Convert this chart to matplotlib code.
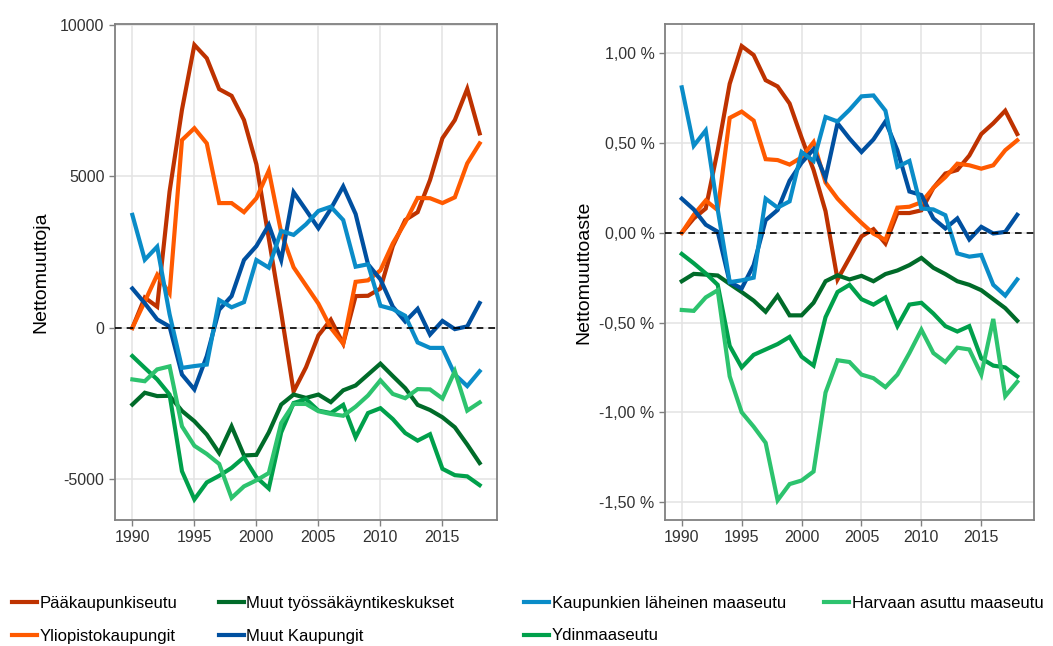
import numpy as np
import matplotlib
matplotlib.use("Agg")
import matplotlib.pyplot as plt
from matplotlib.ticker import FuncFormatter

plt.rcParams['font.family'] = ['Liberation Sans', 'DejaVu Sans']
plt.rcParams['axes.unicode_minus'] = False

years = list(range(1990, 2019))

names = ['Pääkaupunkiseutu', 'Yliopistokaupungit', 'Muut työssäkäyntikeskukset',
         'Muut Kaupungit', 'Kaupunkien läheinen maaseutu', 'Ydinmaaseutu',
         'Harvaan asuttu maaseutu']
colors = ['#be3200', '#ff5a00', '#006b29', '#0050a0', '#0a8cc8', '#00a04b', '#2dc36e']

# Nettomuuttoja (persons)
paakaupunki_n = [0, 1000, 700, 4500, 7200, 9340, 8900, 7880, 7660, 6860, 5400, 2950, 500, -2100,
                 -1300, -250, 270, -520, 1050, 1060, 1300, 2700, 3560, 3820, 4880, 6260, 6860, 7890, 6420]
yliopisto_n = [0, 870, 1750, 1140, 6200, 6590, 6090, 4120, 4120, 3820, 4280, 5190, 3150, 2000,
               1400, 800, 0, -520, 1520, 1570, 1900, 2790, 3480, 4290, 4280, 4120, 4310, 5430, 6090]
tyossak_n = [-2530, -2140, -2250, -2240, -2740, -3080, -3520, -4130, -3250, -4210, -4190, -3450,
             -2530, -2200, -2310, -2200, -2450, -2060, -1900, -1540, -1180, -1590, -1990, -2540,
             -2710, -2950, -3280, -3850, -4460]
muut_kaup_n = [1300, 815, 280, 45, -1540, -2030, -930, 600, 1050, 2240, 2700, 3400, 2240, 4480,
               3890, 3290, 3930, 4670, 3760, 2100, 1600, 700, 210, 630, -220, 230, -40, 50, 820]
kaup_lah_n = [3730, 2250, 2680, 450, -1320, -1260, -1210, 920, 680, 850, 2240, 1990, 3200, 3070,
              3420, 3860, 4000, 3560, 2020, 2100, 730, 620, 400, -480, -660, -660, -1540, -1920, -1430]
ydin_n = [-930, -1320, -1700, -2200, -4730, -5660, -5100, -4880, -4620, -4270, -4930, -5300, -3450,
          -2480, -2350, -2730, -2810, -2540, -3610, -2810, -2650, -3010, -3470, -3720, -3510, -4650,
          -4860, -4900, -5190]
harvaan_n = [-1700, -1760, -1370, -1270, -3250, -3890, -4160, -4490, -5610, -5230, -5030, -4790,
             -3140, -2510, -2510, -2750, -2840, -2900, -2600, -2230, -1730, -2180, -2320, -2020,
             -2030, -2330, -1430, -2730, -2460]

# Nettomuuttoaste (%)
paakaupunki_p = [0, 0.08, 0.135, 0.46, 0.83, 1.04, 0.99, 0.85, 0.815, 0.72, 0.53, 0.35, 0.12, -0.26,
                 -0.14, -0.02, 0.02, -0.06, 0.11, 0.11, 0.125, 0.25, 0.33, 0.35, 0.43, 0.55, 0.61, 0.68, 0.55]
yliopisto_p = [0, 0.1, 0.18, 0.126, 0.64, 0.675, 0.625, 0.41, 0.405, 0.38, 0.42, 0.505, 0.28, 0.19,
               0.12, 0.055, -0.005, -0.04, 0.14, 0.145, 0.17, 0.25, 0.31, 0.385, 0.376, 0.357, 0.376,
               0.46, 0.515]
tyossak_p = [-0.27, -0.229, -0.233, -0.238, -0.285, -0.33, -0.378, -0.44, -0.35, -0.46, -0.46, -0.39,
             -0.27, -0.237, -0.26, -0.24, -0.27, -0.23, -0.21, -0.18, -0.14, -0.195, -0.23, -0.27,
             -0.29, -0.32, -0.37, -0.42, -0.49]
muut_kaup_p = [0.19, 0.13, 0.045, 0.006, -0.275, -0.31, -0.18, 0.07, 0.127, 0.29, 0.39, 0.465, 0.305,
               0.61, 0.525, 0.45, 0.52, 0.62, 0.46, 0.23, 0.21, 0.08, 0.024, 0.08, -0.037, 0.033,
               -0.004, 0.005, 0.10]
kaup_lah_p = [0.81, 0.485, 0.57, 0.13, -0.275, -0.265, -0.25, 0.19, 0.14, 0.175, 0.45, 0.40, 0.645,
              0.62, 0.685, 0.76, 0.765, 0.68, 0.367, 0.40, 0.135, 0.13, 0.098, -0.115, -0.133,
              -0.124, -0.29, -0.35, -0.26]
ydin_p = [-0.118, -0.17, -0.226, -0.29, -0.63, -0.75, -0.68, -0.65, -0.62, -0.58, -0.69, -0.74,
          -0.47, -0.33, -0.29, -0.37, -0.40, -0.36, -0.52, -0.40, -0.39, -0.45, -0.52, -0.55,
          -0.52, -0.70, -0.74, -0.75, -0.80]
harvaan_p = [-0.43, -0.435, -0.36, -0.32, -0.80, -1.0, -1.08, -1.17, -1.49, -1.40, -1.38, -1.33,
             -0.89, -0.71, -0.72, -0.79, -0.81, -0.86, -0.79, -0.67, -0.54, -0.67, -0.72, -0.64,
             -0.65, -0.79, -0.48, -0.91, -0.83]

left_series = [paakaupunki_n, yliopisto_n, tyossak_n, muut_kaup_n, kaup_lah_n, ydin_n, harvaan_n]
right_series = [paakaupunki_p, yliopisto_p, tyossak_p, muut_kaup_p, kaup_lah_p, ydin_p, harvaan_p]

fig = plt.figure(figsize=(10.53, 6.46), dpi=100)
ax1 = fig.add_axes([115 / 1053, 1 - 520 / 646, 382 / 1053, 496 / 646])
ax2 = fig.add_axes([665 / 1053, 1 - 520 / 646, 369 / 1053, 496 / 646])

def style(ax):
    ax.set_facecolor('white')
    ax.grid(True, color='#e3e3e3', lw=1.1)
    ax.set_axisbelow(True)
    for s in ax.spines.values():
        s.set_color('#808080')
        s.set_linewidth(1.3)
    ax.tick_params(colors='#808080', labelcolor='#333333', labelsize=11.5, length=4, width=1)
    ax.set_xlim(1988.6, 2019.4)
    ax.set_xticks([1990, 1995, 2000, 2005, 2010, 2015])

lines = []
for vals, c, n in zip(left_series, colors, names):
    l, = ax1.plot(years, vals, color=c, lw=3.0, label=n, solid_joinstyle='miter')
    lines.append(l)
for vals, c in zip(right_series, colors):
    ax2.plot(years, vals, color=c, lw=3.0, solid_joinstyle='miter')

for ax in (ax1, ax2):
    style(ax)
    ax.axhline(0, color='black', lw=1.2, ls=(0, (4, 3)), zorder=3)

ax1.set_ylim(-6340, 10030)
ax1.set_yticks([-5000, 0, 5000, 10000])
ax1.set_ylabel('Nettomuuttoja', fontsize=14, labelpad=8)

ax2.set_ylim(-1.60, 1.163)
ax2.set_yticks([-1.5, -1.0, -0.5, 0, 0.5, 1.0])
ax2.yaxis.set_major_formatter(FuncFormatter(lambda v, p: f'{v:.2f} %'.replace('.', ',')))
ax2.set_ylabel('Nettomuuttoaste', fontsize=14, labelpad=5)

# legend: four columns placed like the original
cols = [[0, 1], [2, 3], [4, 5], [6]]
xpos = [12, 219, 524, 824]
for idx, x in zip(cols, xpos):
    fig.legend([lines[i] for i in idx], [names[i] for i in idx], loc='upper left',
               bbox_to_anchor=(x / 1053, 1 - 596 / 646), frameon=False, fontsize=12,
               handlelength=1.5, handletextpad=0.15, labelspacing=1.05, borderpad=0,
               borderaxespad=0)

fig.savefig('out.png', dpi=100)
